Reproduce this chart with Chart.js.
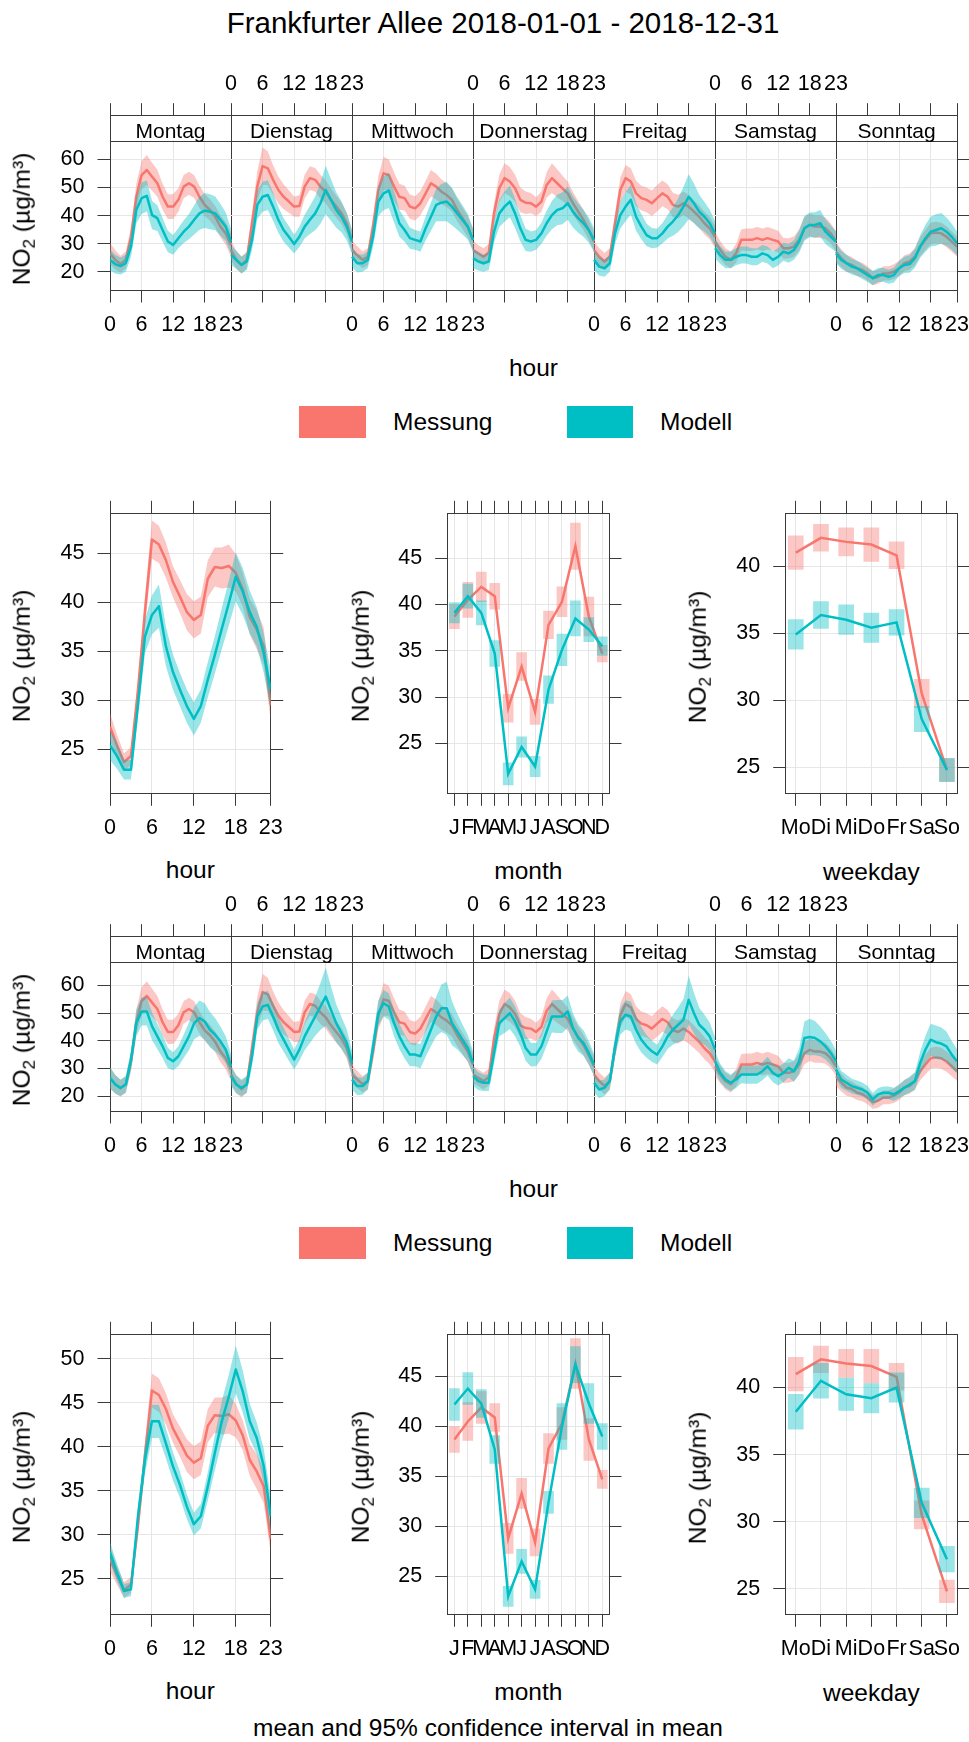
<!DOCTYPE html>
<html><head><meta charset="utf-8">
<script src="https://cdn.jsdelivr.net/npm/chart.js@4.4.1/dist/chart.umd.min.js"></script>
<style>
html,body{margin:0;padding:0;background:#fff;}
#root{position:relative;width:969px;height:1742px;overflow:hidden;font-family:"Liberation Sans",Arial,Helvetica,sans-serif;color:#000;background:#fff;}
canvas{position:absolute;}
.t{position:absolute;white-space:nowrap;line-height:1;transform:translate(-50%,-50%);}
.tl{position:absolute;white-space:nowrap;line-height:1;transform:translate(0,-50%);}
.yt{transform:translate(-50%,-50%) rotate(-90deg);}
.box{position:absolute;}
.sub{font-size:70%;position:relative;top:0.3em;}
</style></head><body><div id="root"></div>
<script>
// ================= DATA =================
const title = "Frankfurter Allee 2018-01-01 - 2018-12-31";
const caption = "mean and 95% confidence interval in mean";
const seriesNames = ["Messung", "Modell"];
const weekdays = ["Montag","Dienstag","Mittwoch","Donnerstag","Freitag","Samstag","Sonntag"];
const hours = [0,1,2,3,4,5,6,7,8,9,10,11,12,13,14,15,16,17,18,19,20,21,22,23];
const hourTicks = [0,6,12,18,23];
const months = [1,2,3,4,5,6,7,8,9,10,11,12];
const monthLabels = ["J","F","M","A","M","J","J","A","S","O","N","D"];
const days = [1,2,3,4,5,6,7];
const dayLabels = ["Mo","Di","Mi","Do","Fr","Sa","So"];
const weekHourYTicks = [20,30,40,50,60];
const hourYTicks1 = [25,30,35,40,45];
const hourYTicks2 = [25,30,35,40,45,50];
const monthYTicks = [25,30,35,40,45];
const dayYTicks = [25,30,35,40];

// weekday x hour means (Mo..So, 0..23 h)
const messungWeekHour = [
[26.6,24.3,22.8,24.3,32.5,46.7,54.4,56.2,53.8,51.5,46.7,43.2,43.2,45.6,50.3,51.5,50.3,46.7,43.8,42.0,39.6,36.1,33.7,29.6],
[27.8,24.3,22.5,24.3,37.3,50.3,57.6,56.8,52.7,49.1,46.7,45.0,43.2,43.4,50.3,53.3,52.7,50.3,48.5,45.6,43.2,40.8,37.3,30.8],
[27.8,26.0,24.3,25.4,36.1,49.1,55.0,54.4,50.3,46.7,46.2,43.2,42.6,44.4,47.9,51.5,50.3,48.5,47.3,45.6,42.0,39.1,36.1,31.4],
[27.8,26.6,25.4,26.9,40.8,49.7,53.3,52.1,49.7,45.6,44.6,44.4,43.2,45.0,50.9,53.3,51.5,49.7,47.9,44.4,41.4,38.5,34.9,30.8],
[27.8,25.4,23.7,25.4,37.3,49.1,53.3,52.1,47.9,46.2,45.6,44.4,46.2,47.9,46.7,43.8,43.2,44.4,43.2,41.4,39.6,37.3,35.5,32.5],
[30.8,27.8,25.4,24.3,26.6,31.4,31.4,31.4,32.0,31.4,32.0,31.4,30.8,28.4,28.4,29.0,31.4,35.5,36.7,36.1,36.1,35.5,33.7,30.8],
[27.2,24.9,23.1,22.5,21.3,20.7,19.5,17.8,18.3,19.5,19.5,20.1,21.3,23.1,23.7,25.4,29.0,31.4,33.7,34.0,33.7,32.5,30.8,29.0]];
const messungWeekHourCI = [
[3.8,3.4,3,3,3.5,4.5,5,5.3,5,4.8,4.6,4.4,4.4,4.2,4.1,4.1,4,4,3.9,3.8,3.8,3.9,4,4.1],
[3.5,3.2,3,3,3.8,5.5,6.7,6,5.2,4.8,4.4,4,3.6,3.8,4.2,4.2,4.2,4.2,4.1,4,3.9,3.8,3.8,3.8],
[3.3,3.1,3,3,3.6,5,5.9,5.5,5,4.6,4.4,4.3,4.3,4.3,4.5,4.7,4.6,4.4,4.2,4.1,4,3.8,3.8,3.8],
[3.2,3,3,3,3.6,4.8,5.3,5.2,4.8,4.4,4,3.6,3.3,3.6,4.5,5.3,5,4.5,4.2,4,3.8,3.6,3.5,3.5],
[3.2,3,3,3,3.5,4.4,4.7,4.7,4.5,4.4,4.4,4.5,4.7,4.6,4.4,4.3,4.2,4.2,4.2,4.1,4,4,4,4],
[3.5,3.2,3,3,3.2,3.8,4,4,4,4,4,3.9,3.8,3.7,3.6,3.6,3.8,4,4,4,4,3.8,3.6,3.5],
[3.5,3.2,3,2.8,2.7,2.6,2.5,2.5,2.5,2.5,2.5,2.6,2.7,2.8,2.9,3,3.3,3.6,3.8,3.8,3.8,3.7,3.6,3.5]];
const modell1WeekHour = [
[24.3,22.8,22.1,23.1,29.0,42.0,46.2,47.0,40.2,39.1,34.9,30.8,29.6,32.0,34.3,36.1,38.5,40.8,41.8,41.4,40.8,38.5,36.1,30.8],
[26.0,24.3,22.5,23.7,31.4,43.8,46.7,47.3,43.2,38.5,34.9,32.5,29.9,32.5,36.1,38.5,40.8,44.4,49.1,45.6,42.0,39.6,36.1,30.8],
[25.4,23.1,23.1,24.3,32.5,45.0,47.9,48.9,43.2,37.3,34.9,32.0,31.4,30.8,35.5,39.6,43.8,44.6,45.0,43.2,40.8,38.5,36.1,31.4],
[24.9,23.7,23.1,23.7,34.3,40.8,43.2,45.0,40.8,35.5,31.4,30.8,31.4,33.7,37.3,40.2,42.0,42.6,44.4,41.4,39.1,37.3,34.9,31.4],
[24.3,21.9,21.3,23.1,33.7,40.2,43.2,45.6,39.6,36.1,33.1,32.0,32.0,33.7,36.1,37.9,40.2,43.2,46.7,44.4,41.4,39.6,37.3,33.7],
[28.4,26.0,24.3,24.3,25.4,26.0,26.0,25.4,25.4,26.6,26.0,24.3,25.4,27.2,26.6,27.8,30.8,35.5,36.7,36.7,37.3,34.3,32.5,30.8],
[26.6,24.3,23.1,21.9,21.3,20.1,18.9,17.8,18.9,18.9,18.3,18.9,21.3,22.5,22.8,24.9,29.0,32.0,34.3,34.9,35.5,34.3,32.5,30.2]];
const modell1WeekHourCI = [
[3.8,3.3,3,3,3.5,4.8,5.6,5.5,5,4.6,4.2,3.8,3.5,3.6,4,4.5,5.2,5.8,6.2,6.2,6,5.6,5,4.5],
[3.5,3.2,3,3,3.6,5,5.3,5.3,5,4.6,4.2,3.8,3.3,3.6,4.2,5,6,7.3,8.6,7.4,6.3,5.5,4.8,4.3],
[3.6,3.3,3,3,3.6,5.2,6,6.2,5.6,4.8,4.2,3.8,3.5,3.6,4.2,5,5.8,6.6,7,6.6,5.8,5.2,4.6,4.2],
[3.5,3.2,3,3,3.8,4.8,5.4,5.6,5.2,4.6,4,3.6,3.5,3.8,4.4,5,5.4,5.7,5.9,5.6,5.2,4.8,4.5,4.2],
[3.5,3.2,3,3,3.8,4.8,5.2,5.3,5,4.5,4,3.6,3.3,3.6,4.2,5,6,7,8,7,6,5.2,4.8,4.4],
[3.5,3.2,3,3,3,3,3,3,3,3,3,3,3.1,3.2,3.3,3.5,4,4.4,4.4,4.5,4.7,4.4,4,3.7],
[3.5,3.2,3,2.8,2.7,2.6,2.5,2.5,2.5,2.5,2.5,2.6,2.7,2.9,3.1,3.4,4,4.8,5.3,5.6,5.4,5,4.6,4.2]];
const modell2WeekHour = [
[26.6,24.2,23.0,24.2,33.2,46.4,50.6,50.6,45.2,41.6,38.0,33.8,32.6,34.4,38.0,41.6,46.4,48.2,47.0,44.0,42.2,39.8,36.8,30.8],
[27.2,24.2,23.0,24.2,34.4,48.8,52.4,53.0,48.8,44.0,40.4,36.8,33.2,36.8,41.6,45.2,48.8,52.4,56.0,51.2,46.4,42.8,39.2,32.0],
[26.0,23.6,23.6,25.4,38.0,50.0,53.6,52.4,46.4,41.6,38.0,35.0,35.0,34.4,39.2,44.0,48.8,51.8,51.8,46.4,43.4,40.4,37.4,32.0],
[27.2,25.4,24.8,24.8,35.6,46.4,48.2,50.0,47.0,42.8,37.4,35.0,35.0,38.0,43.4,48.8,48.8,48.8,50.6,44.6,41.0,39.2,35.6,31.4],
[24.8,22.4,23.0,25.4,38.0,47.0,49.4,48.8,44.0,40.4,38.0,36.2,35.0,38.0,41.6,44.0,45.8,47.6,54.8,50.0,45.8,44.0,41.6,36.8],
[32.6,28.4,26.0,24.8,26.0,27.8,27.8,27.8,27.8,29.0,30.8,28.4,27.2,28.4,30.2,29.0,32.6,41.0,41.4,41.0,39.8,38.0,35.6,32.6],
[29.6,26.0,24.8,23.6,23.0,22.4,21.2,18.8,20.6,21.2,21.2,20.6,21.8,23.0,24.2,25.4,32.0,36.8,40.4,39.5,39.0,38.0,35.0,32.6]];
const modell2WeekHourCI = [
[3.8,3.4,3,3,3.6,4.8,5.1,5.1,5,4.6,4.2,3.7,3.3,3.6,4.2,5,5.8,6.4,6.6,6.4,6,5.4,4.8,4.3],
[3.6,3.3,3,3,3.6,4.8,5.1,5.1,5,4.8,4.4,4,3.6,4,5,6,7,8.5,10.5,8.5,6.8,5.8,5,4.5],
[3.6,3.3,3,3,3.8,4.6,4.8,4.8,4.8,4.6,4.4,4.2,4.2,4.4,5,6,7.2,8.6,9.6,8,6.5,5.5,4.8,4.3],
[3.5,3.2,3,3,3.8,4.8,5.4,5.7,5.4,5,4.6,4.3,4.2,4.6,5.2,5.8,6,6,5.8,5.4,5,4.6,4.3,4],
[3.5,3.2,3,3,3.8,4.8,5.3,5.4,5.2,4.6,4.1,3.8,3.6,3.9,4.6,5.4,6.3,7.4,8.7,7.4,6.2,5.4,5,4.6],
[3.6,3.3,3,3,3.1,3.2,3.3,3.3,3.3,3.3,3.4,3.4,3.4,3.4,3.5,3.8,4.6,6,6.6,6.2,5.4,4.8,4.4,4],
[3.4,3.1,2.9,2.7,2.6,2.5,2.4,2.3,2.3,2.3,2.3,2.4,2.5,2.7,2.9,3.2,4,5,5.8,6,5.8,5.4,4.9,4.4]];

// hour of day
const messungHour   = [27.3,25.4,23.7,24.3,31.0,39.0,46.4,45.9,44.3,42.1,40.6,39.0,38.2,38.7,42.4,43.6,43.5,43.7,43.0,41.3,38.5,37.2,35.5,29.5];
const messungHourCI = [1.4,1.1,0.9,0.9,1.1,1.6,1.95,1.9,1.8,1.6,1.7,1.85,1.9,1.9,1.9,2.0,2.1,2.2,1.9,1.7,1.8,2.0,1.9,1.6];
const modell1Hour   = [25.4,24.3,22.9,22.9,29.5,36.5,38.7,39.6,35.5,32.9,31.1,29.4,28.1,29.4,32.1,34.6,37.3,39.9,42.6,41.1,39.0,37.5,34.8,31.1];
const modell1HourCI = [1.5,1.3,1.0,1.0,1.2,1.7,2.0,2.2,2.0,1.8,1.7,1.7,1.7,1.7,1.8,1.9,2.1,2.3,2.5,2.4,2.2,2.0,2.0,1.9];
const modell2Hour   = [28.0,25.7,23.6,23.8,32.1,38.5,42.9,42.9,40.4,37.8,35.7,33.2,31.2,32.1,35.5,39.3,42.9,45.7,48.8,46.3,42.9,41.0,37.8,32.1];
const modell2HourCI = [1.2,1.0,0.8,0.8,1.1,1.6,1.9,1.9,1.7,1.6,1.5,1.4,1.3,1.4,1.6,2.0,2.3,2.5,2.7,2.4,2.0,1.8,2.0,2.2];

// month
const messungMonth   = [38.7,40.5,41.9,40.9,28.8,33.3,28.4,37.8,40.3,46.3,38.7,34.7];
const messungMonthCI = [1.3,1.9,1.6,1.4,1.5,1.5,1.35,1.5,1.6,2.5,2.1,0.9];
const modell1Month   = [39.1,40.9,39.1,34.7,21.7,24.6,22.5,30.8,35.1,38.5,37.3,35.5];
const modell1MonthCI = [1.1,1.3,1.3,1.4,1.2,1.1,1.1,1.5,1.7,1.9,1.3,1.0];
const modell2Month   = [42.2,43.8,42.3,37.7,23.0,26.5,23.7,32.4,40.0,46.2,42.3,39.0];
const modell2MonthCI = [1.6,1.6,1.4,1.4,1.0,1.2,0.9,1.1,2.3,1.8,2.0,1.3];

// weekday
const messungDay   = [41.0,42.1,41.8,41.6,40.8,30.5,24.8];
const messungDayCI = [1.25,1.0,1.05,1.25,1.0,1.05,0.85];
const modell1Day   = [34.9,36.35,36.0,35.4,35.8,28.6,24.8];
const modell1DayCI = [1.1,1.0,1.1,1.1,0.95,0.95,0.87];
const modell2Day   = [38.2,40.5,39.5,39.2,40.0,31.4,27.2];
const modell2DayCI = [1.3,1.3,1.2,1.1,1.1,1.1,0.95];

// ================= STYLE / LAYOUT =================
const RED = '#F8766D', CYAN = '#00BFC4';
const RED_A = 'rgba(248,118,109,0.4)', CYAN_A = 'rgba(0,191,196,0.4)';
const DARK = '#3a3a3a', LIGHT = '#e6e6e6';
const TICK_FS = 21.5, STRIP_FS = 21, TITLE_FS = 24.5, STRIP_H = 25, TL = 12.5;
const HSPAN = hours[hours.length - 1];

Chart.defaults.font.family = '"Liberation Sans", Arial, Helvetica, sans-serif';
Chart.defaults.font.size = TICK_FS;
Chart.defaults.color = '#000';
Chart.defaults.animation = false;
Chart.defaults.plugins.legend.display = false;
Chart.defaults.plugins.tooltip.enabled = false;

const root = document.getElementById('root');
function addCanvas(b){
  const c = document.createElement('canvas');
  const w = b.r - b.l, h = b.b - b.t;
  c.width = w; c.height = h;
  c.style.left = b.l + 'px'; c.style.top = b.t + 'px';
  c.style.width = w + 'px'; c.style.height = h + 'px';
  root.appendChild(c); return c;
}
function addText(html, x, y, size, cls){
  const d = document.createElement('div');
  d.className = cls || 't';
  d.style.left = x + 'px'; d.style.top = y + 'px'; d.style.fontSize = size + 'px';
  d.innerHTML = html; root.appendChild(d); return d;
}
function addBox(l, t, w, h, color){
  const d = document.createElement('div'); d.className = 'box';
  Object.assign(d.style, {left:l+'px', top:t+'px', width:w+'px', height:h+'px', background:color});
  root.appendChild(d);
}
const fixedTicks = vals => s => { s.ticks = vals.map(v => ({value: v})); };
const fixW = w => s => { s.width = w; s.paddingTop = s.paddingBottom = s.paddingLeft = s.paddingRight = 0; };
const fixH = h => s => { s.height = h; s.paddingTop = s.paddingBottom = s.paddingLeft = s.paddingRight = 0; };

function xAxis(pos, min, max, ticks, size, labelFn, gridColor, pad){
  return { type:'linear', position:pos, min, max, offset:false,
    afterBuildTicks: fixedTicks(ticks), afterFit: fixH(size),
    grid:{ offset:false, drawOnChartArea: pos === 'bottom', color: gridColor, lineWidth:1,
           tickLength:TL, tickColor:DARK, tickWidth:1 },
    border:{ display:true, color:DARK, width:1 },
    ticks:{ autoSkip:false, maxRotation:0, minRotation:0, padding:pad, callback:labelFn } };
}
function yAxis(pos, min, max, ticks, size, show){
  return { type:'linear', position:pos, min, max,
    afterBuildTicks: fixedTicks(ticks), afterFit: fixW(size),
    grid:{ drawOnChartArea: pos === 'left', color:LIGHT, lineWidth:1, tickLength:TL, tickColor:DARK, tickWidth:1 },
    border:{ display:true, color:DARK, width:1 },
    ticks:{ padding:13, callback: v => show ? String(v) : '' } };
}
function bandLine(xs, vals, ci, color, alpha, bandOrder, lineOrder){
  return [
    {type:'line', data: xs.map((x,i)=>({x, y: vals[i]-ci[i]})), borderColor:'transparent', borderWidth:0, pointRadius:0, fill:false, order:bandOrder},
    {type:'line', data: xs.map((x,i)=>({x, y: vals[i]+ci[i]})), borderColor:'transparent', borderWidth:0, pointRadius:0, fill:'-1', backgroundColor:alpha, order:bandOrder},
    {type:'line', data: xs.map((x,i)=>({x, y: vals[i]})), borderColor:color, borderWidth:2.5, pointRadius:0, fill:false, order:lineOrder, borderJoinStyle:'round'}
  ];
}
function boxLine(xs, vals, ci, color, alpha, boxOrder, lineOrder, thick){
  return [
    {type:'bar', data: xs.map((x,i)=>({x, y:[vals[i]-ci[i], vals[i]+ci[i]]})), backgroundColor:alpha, borderWidth:0, barThickness:thick, grouped:false, order:boxOrder},
    {type:'line', data: xs.map((x,i)=>({x, y: vals[i]})), borderColor:color, borderWidth:2.5, pointRadius:0, fill:false, order:lineOrder}
  ];
}
function baseOptions(scales){
  return { responsive:false, animation:false, devicePixelRatio:1, events:[], layout:{padding:0, autoPadding:false}, scales };
}

const stripPlugin = {
  id:'strips',
  afterDraw(chart){
    const {ctx, chartArea:a} = chart; const xs = chart.scales.x;
    ctx.save();
    ctx.fillStyle = '#fff';
    const top = Math.floor(a.top);
    weekdays.forEach((w,d) => {
      const x0 = Math.floor(xs.getPixelForValue(d*HSPAN)), x1 = Math.floor(xs.getPixelForValue((d+1)*HSPAN));
      ctx.fillRect(x0+1, top+1, x1-x0-1, STRIP_H-1);
    });
    ctx.strokeStyle = DARK; ctx.lineWidth = 1;
    const y = Math.round(a.top + STRIP_H) + 0.5;
    ctx.beginPath(); ctx.moveTo(a.left, y); ctx.lineTo(a.right, y); ctx.stroke();
    ctx.restore();
  }
};

function weekHourChart(box, area, yr, modV, modCI){
  const c = addCanvas(box);
  const xsFor = d => hours.map(h => d*HSPAN + h);
  const ds = [];
  weekdays.forEach((w,d) => ds.push(...bandLine(xsFor(d), messungWeekHour[d], messungWeekHourCI[d], RED, RED_A, 4, 3)));
  weekdays.forEach((w,d) => ds.push(...bandLine(xsFor(d), modV[d], modCI[d], CYAN, CYAN_A, 2, 1)));
  const xmax = weekdays.length * HSPAN;
  const tickVals = [];
  weekdays.forEach((w,d) => hourTicks.slice(0,-1).forEach(h => tickVals.push(d*HSPAN + h)));
  tickVals.push(xmax);
  const lab = parity => v => {
    const k = Math.round(v);
    if (k % HSPAN === 0) {
      const p = k / HSPAN;
      if (p < weekdays.length && p % 2 === parity) return String(hourTicks[0]);
      if (p > 0 && (p-1) % 2 === parity) return String(HSPAN);
      return '';
    }
    const d = Math.floor(k / HSPAN);
    return d % 2 === parity ? String(k - d*HSPAN) : '';
  };
  const gridCol = ctx => (ctx.tick && Math.round(ctx.tick.value) % HSPAN === 0) ? DARK : LIGHT;
  const chart = new Chart(c, { type:'line', data:{datasets:ds},
    options: baseOptions({
      x:  xAxis('bottom', 0, xmax, tickVals, box.b - area.b, lab(0), gridCol, 9.5),
      xT: xAxis('top',    0, xmax, tickVals, area.t - box.t, lab(1), gridCol, 6.5),
      y:  yAxis('left',  yr[0], yr[1], weekHourYTicks, area.l - box.l, true),
      yR: yAxis('right', yr[0], yr[1], weekHourYTicks, box.r - area.r, false)
    }), plugins:[stripPlugin] });
  weekdays.forEach((w,d) => {
    const cx = box.l + chart.scales.x.getPixelForValue(d*HSPAN + HSPAN/2);
    const cy = box.t + chart.chartArea.top + STRIP_H/2 + 1.5;
    addText(w, cx, cy, STRIP_FS);
  });
  return chart;
}

function smallChart(box, area, xr, xticks, xlab, yr, yticks, datasets){
  const c = addCanvas(box);
  return new Chart(c, { type:'line', data:{datasets},
    options: baseOptions({
      x:  xAxis('bottom', xr[0], xr[1], xticks, box.b - area.b, xlab, LIGHT, 9.5),
      xT: xAxis('top',    xr[0], xr[1], xticks, area.t - box.t, () => '', LIGHT, 7),
      y:  yAxis('left',  yr[0], yr[1], yticks, area.l - box.l, true),
      yR: yAxis('right', yr[0], yr[1], yticks, box.r - area.r, false)
    }) });
}

function legend(cy){
  addBox(299, cy-16, 67, 32, RED);
  addText(seriesNames[0], 393, cy, TITLE_FS, 'tl');
  addBox(567, cy-16, 66, 32, CYAN);
  addText(seriesNames[1], 660, cy, TITLE_FS, 'tl');
}
const NO2 = 'NO<span class="sub">2</span> (µg/m³)';

function block(off, wyr, mod, modCI, hMod, hModCI, hyr, hyt, mMod, mModCI, myr, dMod, dModCI, dyr){
  weekHourChart({l:0, t:60+off, r:969, b:350+off}, {l:110, t:115.7+off, r:957, b:290+off}, wyr, mod, modCI);
  addText(NO2, 21.5, 218.8+off, TITLE_FS, 't yt');
  addText('hour', 533.5, 368+off, TITLE_FS);
  legend(422+off);
  const at = 513.3+off, ab = 793.3+off, bt = 480+off, bb = 850+off;
  smallChart({l:20, t:bt, r:300, b:bb}, {l:110, t:at, r:270.7, b:ab}, [0, HSPAN], hourTicks, v => String(v), hyr, hyt,
    [...bandLine(hours, messungHour, messungHourCI, RED, RED_A, 4, 3), ...bandLine(hours, hMod, hModCI, CYAN, CYAN_A, 2, 1)]);
  smallChart({l:370, t:bt, r:640, b:bb}, {l:447.7, t:at, r:609, b:ab}, [0.5, 12.5], months, v => monthLabels[Math.round(v)-1] || '', myr, monthYTicks,
    [...boxLine(months, messungMonth, messungMonthCI, RED, RED_A, 4, 3, 10), ...boxLine(months, mMod, mModCI, CYAN, CYAN_A, 2, 1, 10)]);
  smallChart({l:700, t:bt, r:969, b:bb}, {l:785.7, t:at, r:957, b:ab}, [0.6, 7.4], days, v => dayLabels[Math.round(v)-1] || '', dyr, dayYTicks,
    [...boxLine(days, messungDay, messungDayCI, RED, RED_A, 4, 3, 15), ...boxLine(days, dMod, dModCI, CYAN, CYAN_A, 2, 1, 15)]);
  addText(NO2, 21.7, 656+off, TITLE_FS, 't yt');
  addText(NO2, 361, 656+off, TITLE_FS, 't yt');
  addText(NO2, 698.3, 657+off, TITLE_FS, 't yt');
  addText('hour', 190.3, 870+off, TITLE_FS);
  addText('month', 528.3, 871+off, TITLE_FS);
  addText('weekday', 871.3, 872+off, TITLE_FS);
}

addText(title, 503, 23, 29.5);
block(0,   [13.6, 75.47], modell1WeekHour, modell1WeekHourCI, modell1Hour, modell1HourCI, [20.5, 49.08], hourYTicks1,
         modell1Month, modell1MonthCI, [19.6, 49.86], modell1Day, modell1DayCI, [23.06, 43.93]);
block(821, [14.6, 77.66], modell2WeekHour, modell2WeekHourCI, modell2Hour, modell2HourCI, [20.95, 52.8], hourYTicks2,
         modell2Month, modell2MonthCI, [21.2, 49.23], modell2Day, modell2DayCI, [23.09, 43.97]);
addText(caption, 488, 1728, TITLE_FS);
</script></body></html>
